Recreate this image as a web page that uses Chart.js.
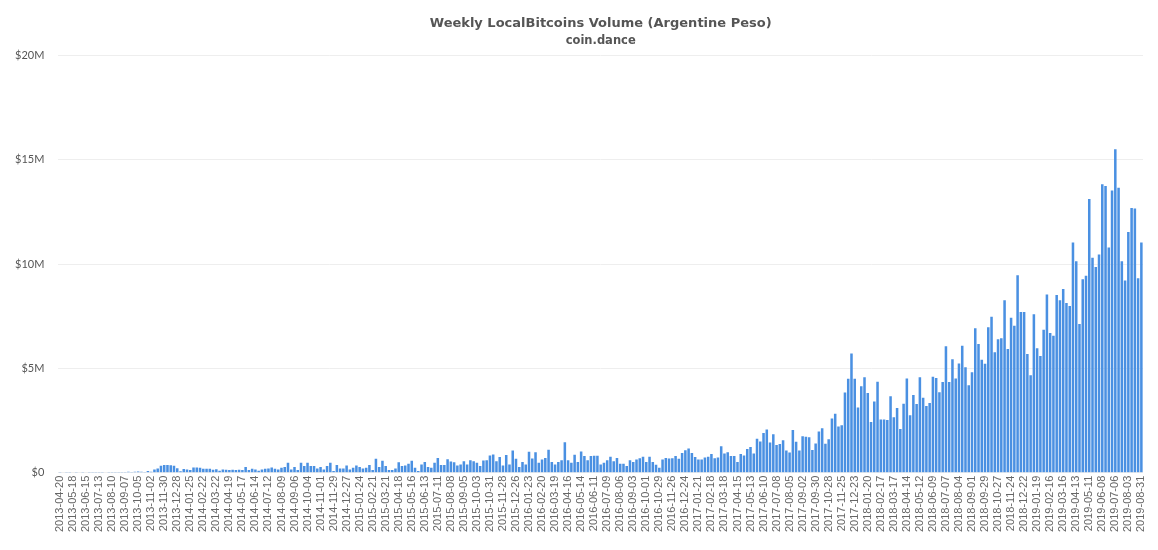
<!DOCTYPE html>
<html>
<head>
<meta charset="utf-8">
<style>html,body{margin:0;padding:0;background:#fff}canvas{display:block}</style>
<script src="https://cdn.jsdelivr.net/npm/chart.js@4"></script>
</head>
<body>
<canvas id="c" width="1158" height="550"></canvas>
<script>
const weeks2013 = ['04-20','04-27','05-04','05-11','05-18','05-25','06-01','06-08','06-15','06-22','06-29','07-06','07-13','07-20','07-27','08-03','08-10','08-17','08-24','08-31','09-07','09-14','09-21','09-28','10-05','10-12','10-19','10-26','11-02','11-09','11-16','11-23','11-30','12-07','12-14','12-21','12-28'];
const weeks2014 = ['01-04','01-11','01-18','01-25','02-01','02-08','02-15','02-22','03-01','03-08','03-15','03-22','03-29','04-05','04-12','04-19','04-26','05-03','05-10','05-17','05-24','05-31','06-07','06-14','06-21','06-28','07-05','07-12','07-19','07-26','08-02','08-09','08-16','08-23','08-30','09-06','09-13','09-20','09-27','10-04','10-11','10-18','10-25','11-01','11-08','11-15','11-22','11-29','12-06','12-13','12-20','12-27'];
const weeks2015 = ['01-03','01-10','01-17','01-24','01-31','02-07','02-14','02-21','02-28','03-07','03-14','03-21','03-28','04-04','04-11','04-18','04-25','05-02','05-09','05-16','05-23','05-30','06-06','06-13','06-20','06-27','07-04','07-11','07-18','07-25','08-01','08-08','08-15','08-22','08-29','09-05','09-12','09-19','09-26','10-03','10-10','10-17','10-24','10-31','11-07','11-14','11-21','11-28','12-05','12-12','12-19','12-26'];
const weeks2016 = ['01-02','01-09','01-16','01-23','01-30','02-06','02-13','02-20','02-27','03-05','03-12','03-19','03-26','04-02','04-09','04-16','04-23','04-30','05-07','05-14','05-21','05-28','06-04','06-11','06-18','06-25','07-02','07-09','07-16','07-23','07-30','08-06','08-13','08-20','08-27','09-03','09-10','09-17','09-24','10-01','10-08','10-15','10-22','10-29','11-05','11-12','11-19','11-26','12-03','12-10','12-17','12-24','12-31'];
const weeks2017 = ['01-07','01-14','01-21','01-28','02-04','02-11','02-18','02-25','03-04','03-11','03-18','03-25','04-01','04-08','04-15','04-22','04-29','05-06','05-13','05-20','05-27','06-03','06-10','06-17','06-24','07-01','07-08','07-15','07-22','07-29','08-05','08-12','08-19','08-26','09-02','09-09','09-16','09-23','09-30','10-07','10-14','10-21','10-28','11-04','11-11','11-18','11-25','12-02','12-09','12-16','12-23','12-30'];
const weeks2018 = ['01-06','01-13','01-20','01-27','02-03','02-10','02-17','02-24','03-03','03-10','03-17','03-24','03-31','04-07','04-14','04-21','04-28','05-05','05-12','05-19','05-26','06-02','06-09','06-16','06-23','06-30','07-07','07-14','07-21','07-28','08-04','08-11','08-18','08-25','09-01','09-08','09-15','09-22','09-29','10-06','10-13','10-20','10-27','11-03','11-10','11-17','11-24','12-01','12-08','12-15','12-22','12-29'];
const weeks2019 = ['01-05','01-12','01-19','01-26','02-02','02-09','02-16','02-23','03-02','03-09','03-16','03-23','03-30','04-06','04-13','04-20','04-27','05-04','05-11','05-18','05-25','06-01','06-08','06-15','06-22','06-29','07-06','07-13','07-20','07-27','08-03','08-10','08-17','08-24','08-31'];
const categories = [].concat(
  weeks2013.map(d => '2013-' + d), weeks2014.map(d => '2014-' + d), weeks2015.map(d => '2015-' + d),
  weeks2016.map(d => '2016-' + d), weeks2017.map(d => '2017-' + d), weeks2018.map(d => '2018-' + d), weeks2019.map(d => '2019-' + d));

// Volume in millions of pesos
const volumeA = [.01,.02,.01,.03,.02,.03,.02,.01,.02,.01,.03,.04,.03,.03,.02,.03,.03,.04,.04,.03,.04,.05,.04,.05,.06,.05,
 .03,.08,.05,.16,.2,.33,.37,.37,.36,.34,.22,.07,.18,.16,.13,.25,.25,.24,.19,.19,.19,.14,.17,.1,.16,.14,.13,.14,.13,.14,.13,.28,.13,.19,.16,.1,.16,.19,.2,.25,.19,.16,.24,.28];
const volumeB = [.48,.16,.28,.13,.48,.32,.48,.32,.32,.2,.28,.16,.32,.48,.08,.37,.2,.2,.35,.16,.24,.35,.28,.2,.24,.37,.13,.67,.28,.57,.32,.13,.13,.2,.5,.32,.35,.43,.57,.24,.08,.4,.52,.27,.24,.48,.71,.37,.37,.65,.54,.5,.35,.4,.55,.4,.6,.55,.48,.32,.59,.6,.83,.87,.55,.75,.35,.85,.4,1.06,.67,.27];
const volumeC = [.52,.4,1.0,.68,.98,.48,.63,.71,1.1,.52,.4,.52,.6,1.46,.6,.48,.86,.52,1.02,.8,.6,.8,.81,.81,.4,.48,.6,.76,.55,.71,.43,.43,.32,.6,.52,.63,.7,.76,.52,.76,.52,.38,.24,.63,.71,.68,.7,.8,.67,.95,1.08,1.16,.95,.75,.63,.63,.73,.76,.9,.7,.73,1.27,.92,.98,.8,.8,.52,.9,.83,1.14];
const volumeD = [1.23,.92,1.63,1.5,1.9,2.07,1.45,1.85,1.33,1.38,1.56,1.07,.97,2.05,1.49,1.07,1.75,1.72,1.7,1.09,1.4,1.98,2.13,1.39,1.61,2.6,2.83,2.22,2.27,3.85,4.5,5.72,4.5,3.13,4.15,4.57,3.82,2.43,3.41,4.36];
const volumeE = [2.55,2.55,2.53,3.67,2.66,3.1,2.09,3.3,4.52,2.75,3.72,3.29,4.57,3.59,3.2,3.34,4.6,4.54,3.86,4.35,6.06,4.35,5.44,4.52,5.24,6.09,5.06,4.19,4.81,6.93,6.17,5.41,5.22,6.97,7.47,5.77,6.4,6.45];
const volumeF = [8.27,5.93,7.43,7.04,9.46,7.7,7.7,5.69,4.67,7.6,5.97,5.59,6.85,8.54,6.7,6.56,8.52,8.27,8.81,8.13,7.99,11.03,10.13,7.13,9.27,9.44,13.12,10.3,9.86,10.46,13.82,13.74,10.79,13.52,15.5,13.66,10.14,9.21,11.54,12.69,12.66,9.32,11.03];
const volume = [].concat(volumeA, volumeB, volumeC, volumeD, volumeE, volumeF);

const titleText = 'Weekly LocalBitcoins Volume (Argentine Peso)';
const subtitleText = 'coin.dance';
const yTicks = ['$0', '$5M', '$10M', '$15M', '$20M'];

new Chart(document.getElementById('c'), {
  type: 'bar',
  data: { labels: categories, datasets: [{ data: volume, backgroundColor: '#4a90e2', categoryPercentage: 0.8, barPercentage: 0.97 }] },
  options: {
    responsive: false,
    animation: false,
    devicePixelRatio: 1,
    layout: { padding: { left: 1, right: 15, top: 0, bottom: 15 } },
    plugins: {
      legend: { display: false },
      tooltip: { enabled: false },
      title: { display: true, text: titleText, fullSize: false, color: '#555', font: { family: '"DejaVu Sans"', size: 13, weight: 'bold' }, padding: { top: 16, bottom: 3 } },
      subtitle: { display: true, text: subtitleText, fullSize: false, color: '#555', font: { family: '"DejaVu Sans"', size: 11.5, weight: 'bold' }, padding: { top: 0, bottom: 7 } }
    },
    scales: {
      x: {
        grid: { display: false, drawTicks: false },
        border: { display: false },
        ticks: {
          autoSkip: false, maxRotation: 90, minRotation: 90, padding: 3,
          color: '#666', font: { family: '"Liberation Sans"', size: 11 },
          callback: function (v, i) { return i % 4 === 0 ? categories[i] : ''; }
        }
      },
      y: {
        min: 0, max: 20,
        grid: { color: '#eeeeee', drawTicks: false },
        border: { display: false },
        ticks: {
          stepSize: 5, padding: 14,
          color: '#555', font: { family: 'Lato', size: 11 },
          callback: function (v) { return yTicks[v / 5]; }
        }
      }
    }
  }
});
</script>
</body>
</html>
